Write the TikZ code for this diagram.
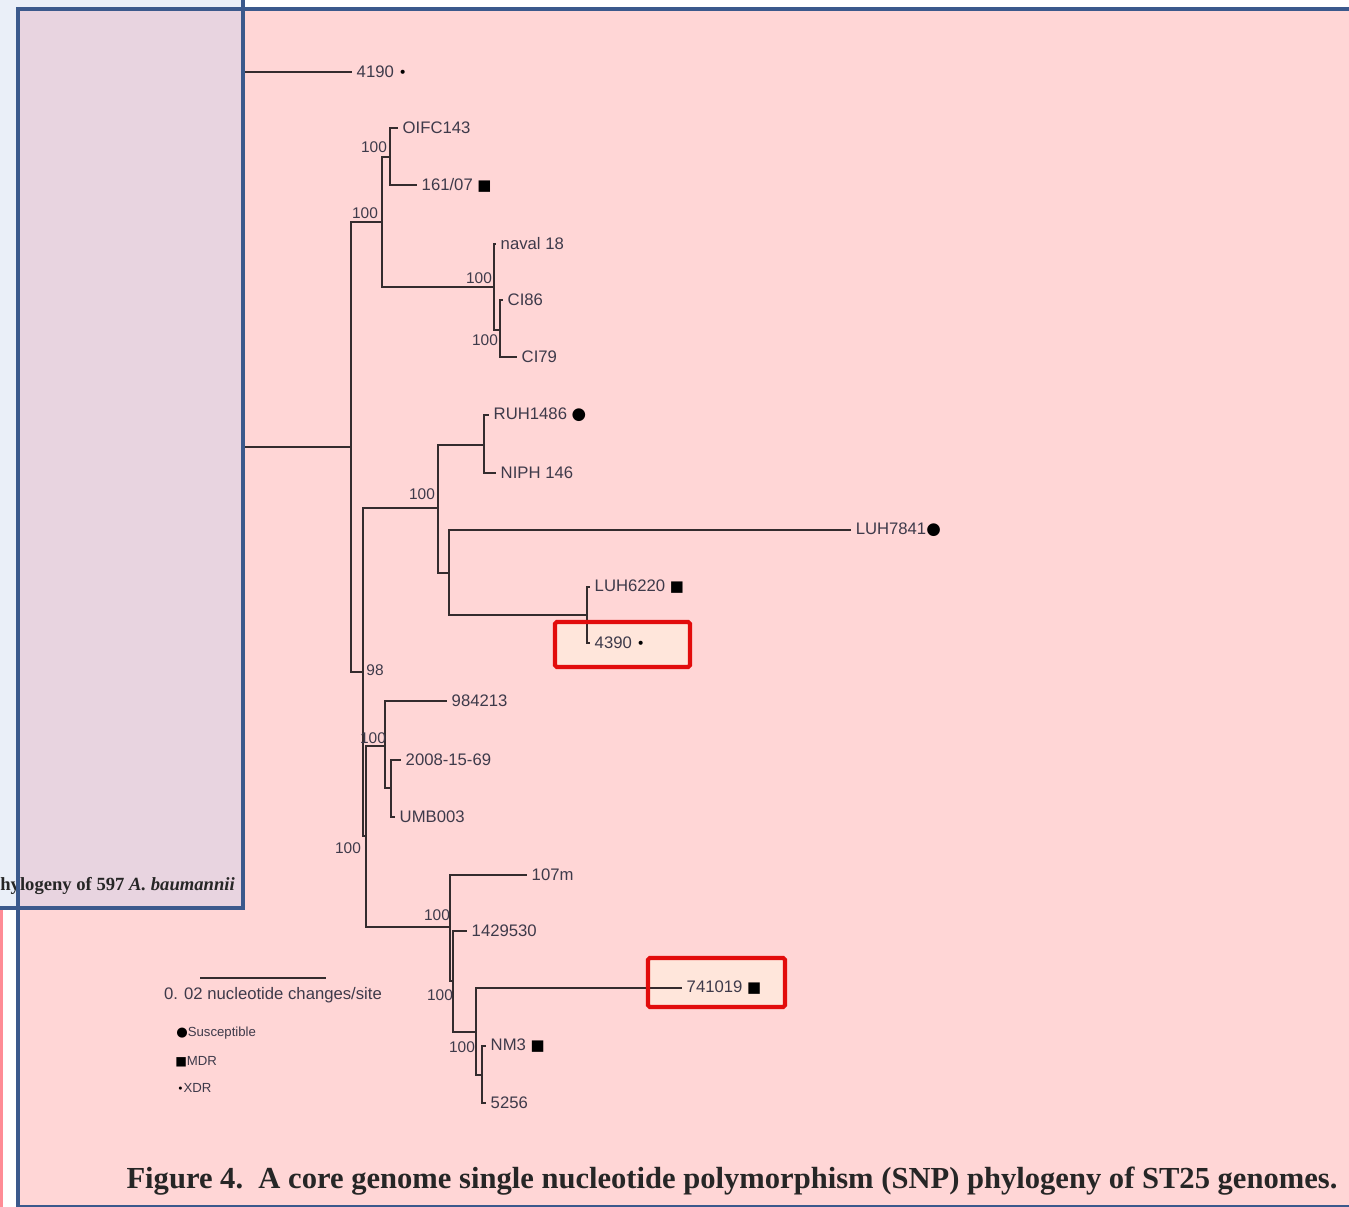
\documentclass[tikz,border=0pt]{standalone}
\usepackage{fontspec}
\setmainfont{Liberation Serif}
\setsansfont{Liberation Sans}
\newfontfamily\symfont{DejaVu Sans}
\usepackage{tikz}
\usetikzlibrary{positioning,backgrounds}
\definecolor{scpink}{RGB}{255,214,214}
\definecolor{scmauve}{RGB}{232,212,224}
\definecolor{scfrost}{RGB}{234,239,248}
\definecolor{scstripe}{RGB}{255,140,150}
\definecolor{scblue}{RGB}{59,89,140}
\definecolor{scred}{RGB}{226,12,12}
\definecolor{scpeach}{RGB}{255,236,222}
\definecolor{scbranch}{RGB}{52,44,46}
\definecolor{sctext}{RGB}{62,58,74}

% resistance marks
\newcommand{\susc}[1][9.5]{{\color{black}\symfont\fontsize{#1}{#1}\selectfont ●}}
\newcommand{\mdr}[1][8.5]{{\color{black}\symfont\fontsize{#1}{#1}\selectfont ■}}
\newcommand{\xdr}[1][8]{{\color{black}\symfont\fontsize{#1}{#1}\selectfont •}}

\begin{document}
\begin{tikzpicture}[
  x=0.2mm, y=-0.2mm,
  font=\sffamily\fontsize{9.5}{11}\selectfont,
  branch/.style={draw=scbranch, line width=1.1pt},
  leaf/.style={anchor=west, inner sep=2.5pt, text=sctext},
  boot/.style={text=sctext, inner sep=0pt, font=\sffamily\fontsize{8.8}{9}\selectfont},
  keytext/.style={anchor=west, inner sep=0pt, text=sctext, font=\sffamily\fontsize{7.5}{8}\selectfont},
  frame/.style={draw=scblue, line width=2.8pt},
  hilite/.style={draw=scred, line width=2.3pt, rounded corners=1pt}
]
\useasboundingbox (0,0) rectangle (1349,1207);

% --- screenshot backdrop ---
\fill[white] (0,0) rectangle (1349,1207);
\fill[scfrost] (0,0) rectangle (243,908);
\fill[scstripe] (0,908) rectangle (3,1207);
\fill[scpink] (18,9) rectangle (1349,1207);
\fill[scpeach, fill opacity=.75] (555,622) rectangle (690,667);
\fill[scpeach, fill opacity=.75] (648,958) rectangle (785,1007);

% --- internal nodes ---
\coordinate (root) at (232,260);
\coordinate (nA) at (351,447);
\coordinate (nB) at (382,222);
\coordinate (nC) at (390,157);
\coordinate (nD) at (494,287);
\coordinate (nE) at (500,330);
\coordinate (nF) at (363,672);
\coordinate (nG) at (438,508);
\coordinate (nK) at (484,445);
\coordinate (nL) at (449,573);
\coordinate (nM) at (587,615);
\coordinate (nH) at (366,836);
\coordinate (nI) at (385,746);
\coordinate (nN) at (391,788);
\coordinate (nJ) at (450,927);
\coordinate (nO) at (453,981);
\coordinate (nP) at (476,1032);
\coordinate (nQ) at (482,1075);

% --- tips ---
\node[leaf] (t4190) at (352,72) {4190 \xdr};
\node[leaf] (tOIFC) at (398,128) {OIFC143};
\node[leaf] (t16107) at (417,185) {161/07 \mdr};
\node[leaf] (tnaval) at (496,244) {naval 18};
\node[leaf] (tCI86) at (503,300) {CI86};
\node[leaf] (tCI79) at (517,357) {CI79};
\node[leaf] (tRUH) at (489,415) {RUH1486 \susc};
\node[leaf] (tNIPH) at (496,473) {NIPH 146};
\node[leaf] (tLUH7841) at (851,530) {LUH7841\susc};
\node[leaf] (tLUH6220) at (590,587) {LUH6220 \mdr};
\node[leaf] (t4390) at (590,643) {4390 \xdr};
\node[leaf] (t984213) at (447,701) {984213};
\node[leaf] (t2008) at (401,760) {2008-15-69};
\node[leaf] (tUMB) at (395,817) {UMB003};
\node[leaf] (t107m) at (527,875) {107m};
\node[leaf] (t1429530) at (467,931) {1429530};
\node[leaf] (t741019) at (682,988) {741019 \mdr};
\node[leaf] (tNM3) at (486,1046) {NM3 \mdr};
\node[leaf] (t5256) at (486,1103) {5256};

% --- branches ---
\foreach \p/\c in {root/nA, nA/nB, nA/nF, nB/nC, nB/nD, nD/nE, nF/nG, nF/nH,
                   nG/nK, nG/nL, nL/nM, nH/nI, nH/nJ, nI/nN, nJ/nO, nO/nP, nP/nQ}
  { \draw[branch] (\p) |- (\c); }
\foreach \p/\c in {root/t4190, nC/tOIFC, nC/t16107, nD/tnaval, nE/tCI86, nE/tCI79,
                   nK/tRUH, nK/tNIPH, nL/tLUH7841, nM/tLUH6220, nM/t4390,
                   nI/t984213, nN/t2008, nN/tUMB, nJ/t107m, nO/t1429530,
                   nP/t741019, nQ/tNM3, nQ/t5256}
  { \draw[branch] (\p) |- (\c.west); }

% --- bootstrap support ---
\node[boot] (bB) at (365,213) {100};
\node[boot] (bC) at (374,147) {100};
\node[boot] (bD) at (479,278) {100};
\node[boot] (bE) at (485,340) {100};
\node[boot] (bF) at (375,670) {98};
\node[boot] (bG) at (422,494) {100};
\node[boot] (bI) at (373,738) {100};
\node[boot] (bH) at (348,848) {100};
\node[boot] (bJ) at (437,915) {100};
\node[boot] (bO) at (440,995) {100};
\node[boot] (bQ) at (462,1047) {100};

% --- overlaid panel on the left ---
\fill[scmauve] (18,9) rectangle (243,908);
\node[anchor=west, inner sep=0pt, text=black!85,
      font=\rmfamily\bfseries\fontsize{10.6}{12}\selectfont] (boxlbl) at (0,886)
  {hylogeny of 597 \textit{A. baumannii}};
\draw[frame] (18,1207) -- (18,9) -- (1349,9);
\draw[frame] (243,0) -- (243,908) -- (0,908);
\draw[scblue, line width=1pt] (18,1206) -- (1349,1206);

% highlighted isolates
\draw[hilite] (555,622) rectangle (690,667);
\draw[hilite] (648,958) rectangle (785,1007);

% --- scale and key ---
\coordinate (sbL) at (200,978);
\coordinate (sbR) at (326,978);
\draw[branch] (sbL) -- (sbR);
\node[text=sctext, inner sep=0pt] (sbT) at (273,995) {0. 02 nucleotide changes/site};
\node[keytext] (kSus) at (176,1033) {\susc[7.5]Susceptible};
\node[keytext] (kMdr) at (175,1062) {\mdr[7]MDR};
\node[keytext] (kXdr) at (177,1088) {\xdr[6]XDR};

\node[inner sep=0pt, text=black!85,
      font=\rmfamily\bfseries\fontsize{17.4}{20}\selectfont] (cap) at (732,1181)
  {Figure 4.\ \ A core genome single nucleotide polymorphism (SNP) phylogeny of ST25 genomes.};

\end{tikzpicture}
\end{document}
